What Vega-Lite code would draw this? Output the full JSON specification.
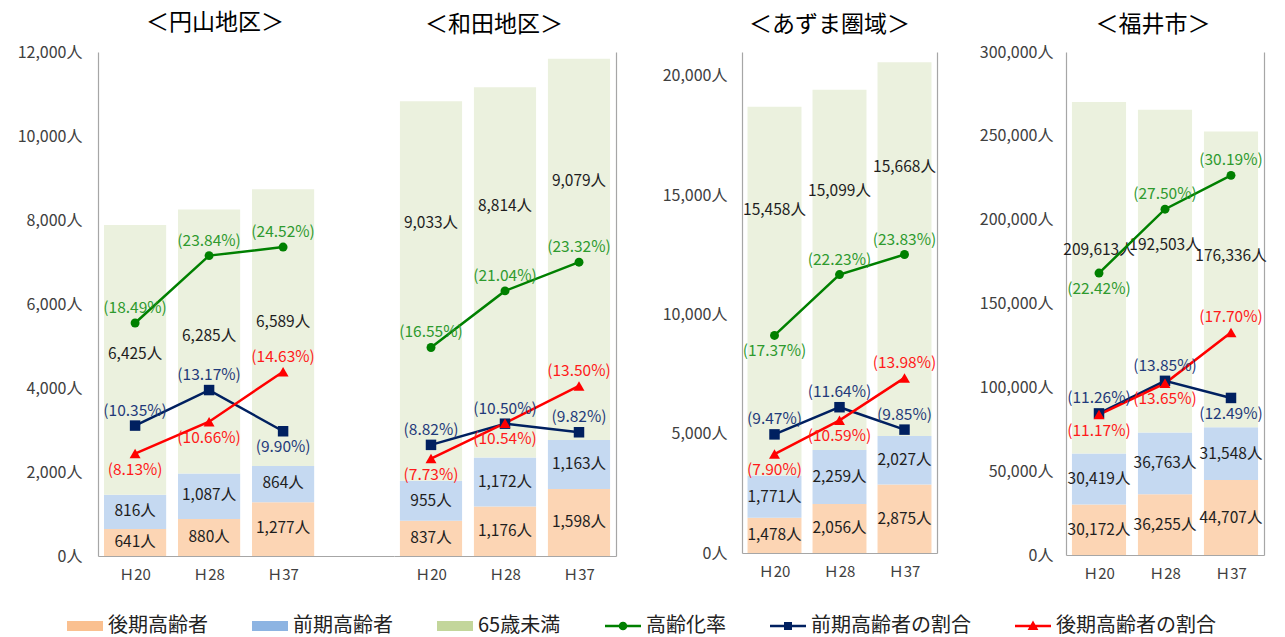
{
  "$schema": "https://vega.github.io/schema/vega-lite/v6.json",
  "background": "white",
  "padding": {"left": 17, "top": 12, "right": 0, "bottom": 48},
  "datasets": {
    "pop": [
      {"地域":"円山地区","年度":"Ｈ20","系列":"後期高齢者","値":641},
      {"地域":"円山地区","年度":"Ｈ20","系列":"前期高齢者","値":816},
      {"地域":"円山地区","年度":"Ｈ20","系列":"65歳未満","値":6425},
      {"地域":"円山地区","年度":"Ｈ20","系列":"高齢化率","値":18.49},
      {"地域":"円山地区","年度":"Ｈ20","系列":"前期高齢者の割合","値":10.35},
      {"地域":"円山地区","年度":"Ｈ20","系列":"後期高齢者の割合","値":8.13},
      {"地域":"円山地区","年度":"Ｈ28","系列":"後期高齢者","値":880},
      {"地域":"円山地区","年度":"Ｈ28","系列":"前期高齢者","値":1087},
      {"地域":"円山地区","年度":"Ｈ28","系列":"65歳未満","値":6285},
      {"地域":"円山地区","年度":"Ｈ28","系列":"高齢化率","値":23.84},
      {"地域":"円山地区","年度":"Ｈ28","系列":"前期高齢者の割合","値":13.17},
      {"地域":"円山地区","年度":"Ｈ28","系列":"後期高齢者の割合","値":10.66},
      {"地域":"円山地区","年度":"Ｈ37","系列":"後期高齢者","値":1277},
      {"地域":"円山地区","年度":"Ｈ37","系列":"前期高齢者","値":864},
      {"地域":"円山地区","年度":"Ｈ37","系列":"65歳未満","値":6589},
      {"地域":"円山地区","年度":"Ｈ37","系列":"高齢化率","値":24.52},
      {"地域":"円山地区","年度":"Ｈ37","系列":"前期高齢者の割合","値":9.90},
      {"地域":"円山地区","年度":"Ｈ37","系列":"後期高齢者の割合","値":14.63},
      {"地域":"和田地区","年度":"Ｈ20","系列":"後期高齢者","値":837},
      {"地域":"和田地区","年度":"Ｈ20","系列":"前期高齢者","値":955},
      {"地域":"和田地区","年度":"Ｈ20","系列":"65歳未満","値":9033},
      {"地域":"和田地区","年度":"Ｈ20","系列":"高齢化率","値":16.55},
      {"地域":"和田地区","年度":"Ｈ20","系列":"前期高齢者の割合","値":8.82},
      {"地域":"和田地区","年度":"Ｈ20","系列":"後期高齢者の割合","値":7.73},
      {"地域":"和田地区","年度":"Ｈ28","系列":"後期高齢者","値":1176},
      {"地域":"和田地区","年度":"Ｈ28","系列":"前期高齢者","値":1172},
      {"地域":"和田地区","年度":"Ｈ28","系列":"65歳未満","値":8814},
      {"地域":"和田地区","年度":"Ｈ28","系列":"高齢化率","値":21.04},
      {"地域":"和田地区","年度":"Ｈ28","系列":"前期高齢者の割合","値":10.50},
      {"地域":"和田地区","年度":"Ｈ28","系列":"後期高齢者の割合","値":10.54},
      {"地域":"和田地区","年度":"Ｈ37","系列":"後期高齢者","値":1598},
      {"地域":"和田地区","年度":"Ｈ37","系列":"前期高齢者","値":1163},
      {"地域":"和田地区","年度":"Ｈ37","系列":"65歳未満","値":9079},
      {"地域":"和田地区","年度":"Ｈ37","系列":"高齢化率","値":23.32},
      {"地域":"和田地区","年度":"Ｈ37","系列":"前期高齢者の割合","値":9.82},
      {"地域":"和田地区","年度":"Ｈ37","系列":"後期高齢者の割合","値":13.50},
      {"地域":"あずま圏域","年度":"Ｈ20","系列":"後期高齢者","値":1478},
      {"地域":"あずま圏域","年度":"Ｈ20","系列":"前期高齢者","値":1771},
      {"地域":"あずま圏域","年度":"Ｈ20","系列":"65歳未満","値":15458},
      {"地域":"あずま圏域","年度":"Ｈ20","系列":"高齢化率","値":17.37},
      {"地域":"あずま圏域","年度":"Ｈ20","系列":"前期高齢者の割合","値":9.47},
      {"地域":"あずま圏域","年度":"Ｈ20","系列":"後期高齢者の割合","値":7.90},
      {"地域":"あずま圏域","年度":"Ｈ28","系列":"後期高齢者","値":2056},
      {"地域":"あずま圏域","年度":"Ｈ28","系列":"前期高齢者","値":2259},
      {"地域":"あずま圏域","年度":"Ｈ28","系列":"65歳未満","値":15099},
      {"地域":"あずま圏域","年度":"Ｈ28","系列":"高齢化率","値":22.23},
      {"地域":"あずま圏域","年度":"Ｈ28","系列":"前期高齢者の割合","値":11.64},
      {"地域":"あずま圏域","年度":"Ｈ28","系列":"後期高齢者の割合","値":10.59},
      {"地域":"あずま圏域","年度":"Ｈ37","系列":"後期高齢者","値":2875},
      {"地域":"あずま圏域","年度":"Ｈ37","系列":"前期高齢者","値":2027},
      {"地域":"あずま圏域","年度":"Ｈ37","系列":"65歳未満","値":15668},
      {"地域":"あずま圏域","年度":"Ｈ37","系列":"高齢化率","値":23.83},
      {"地域":"あずま圏域","年度":"Ｈ37","系列":"前期高齢者の割合","値":9.85},
      {"地域":"あずま圏域","年度":"Ｈ37","系列":"後期高齢者の割合","値":13.98},
      {"地域":"福井市","年度":"Ｈ20","系列":"後期高齢者","値":30172},
      {"地域":"福井市","年度":"Ｈ20","系列":"前期高齢者","値":30419},
      {"地域":"福井市","年度":"Ｈ20","系列":"65歳未満","値":209613},
      {"地域":"福井市","年度":"Ｈ20","系列":"高齢化率","値":22.42},
      {"地域":"福井市","年度":"Ｈ20","系列":"前期高齢者の割合","値":11.26},
      {"地域":"福井市","年度":"Ｈ20","系列":"後期高齢者の割合","値":11.17},
      {"地域":"福井市","年度":"Ｈ28","系列":"後期高齢者","値":36255},
      {"地域":"福井市","年度":"Ｈ28","系列":"前期高齢者","値":36763},
      {"地域":"福井市","年度":"Ｈ28","系列":"65歳未満","値":192503},
      {"地域":"福井市","年度":"Ｈ28","系列":"高齢化率","値":27.50},
      {"地域":"福井市","年度":"Ｈ28","系列":"前期高齢者の割合","値":13.85},
      {"地域":"福井市","年度":"Ｈ28","系列":"後期高齢者の割合","値":13.65},
      {"地域":"福井市","年度":"Ｈ37","系列":"後期高齢者","値":44707},
      {"地域":"福井市","年度":"Ｈ37","系列":"前期高齢者","値":31548},
      {"地域":"福井市","年度":"Ｈ37","系列":"65歳未満","値":176336},
      {"地域":"福井市","年度":"Ｈ37","系列":"高齢化率","値":30.19},
      {"地域":"福井市","年度":"Ｈ37","系列":"前期高齢者の割合","値":12.49},
      {"地域":"福井市","年度":"Ｈ37","系列":"後期高齢者の割合","値":17.70}
    ]
  },
  "data": {"name": "pop"},
  "config": {
    "font": "Noto Sans CJK JP",
    "view": {"stroke": null},
    "axis": {"ticks": false, "grid": false, "domainColor": "#A6A6A6", "domainWidth": 1.2, "labelColor": "#404040", "labelFontSize": 15, "labelFont": "Noto Sans CJK JP"},
    "title": {"fontSize": 23, "fontWeight": "normal", "color": "#000000", "font": "Noto Sans CJK JP", "frame": "group", "offset": 14}
  },
  "spacing": 46,
  "hconcat": [
    {
      "spacing": 0,
      "hconcat": [
        {
          "width": 296, "height": 504,
          "title": {"text": "＜円山地区＞", "dx": -31, "offset": 9},
          "transform": [{"filter": "datum['地域'] === '円山地区'"}],
          "encoding": {"x": {"field": "年度", "type": "nominal", "sort": ["Ｈ20","Ｈ28","Ｈ37"], "scale": {"paddingInner": 0.16, "paddingOuter": 0.58, "align": 0.07}, "axis": {"title": null, "labelAngle": 0, "labelPadding": 11}}},
          "layer": [
            {
              "transform": [{"filter": {"field": "系列", "oneOf": ["後期高齢者","前期高齢者","65歳未満"]}}],
              "layer": [
                {"mark": {"type": "bar"}, "encoding": {
                  "y": {"field": "値", "type": "quantitative", "stack": "zero", "scale": {"domain": [0, 12000]}, "axis": {"title": null, "values": [0,2000,4000,6000,8000,10000,12000], "labelExpr": "format(datum.value, ',') + '人'", "labelPadding": 16, "labelFontSize": 16}},
                  "fill": {"field": "系列", "type": "nominal", "scale": {"domain": ["後期高齢者","前期高齢者","65歳未満"], "range": ["#FCD5B4","#C5D9F1","#EBF1DE"]}, "legend": null},
                  "order": {"field": "系列", "sort": "descending"}}},
                {"mark": {"type": "text", "text": {"expr": "format(datum['値'], ',') + '人'"}, "fontSize": 15.5, "color": "#1E1E1E"}, "encoding": {
                  "y": {"field": "値", "type": "quantitative", "stack": "zero", "bandPosition": 0.52, "scale": {"domain": [0, 12000]}, "axis": {"title": null, "values": [0,2000,4000,6000,8000,10000,12000], "labelExpr": "format(datum.value, ',') + '人'", "labelPadding": 16, "labelFontSize": 16}},
                  "detail": {"field": "系列"},
                  "order": {"field": "系列", "sort": "descending"}}}
              ]
            },
            {
              "transform": [{"filter": {"field": "系列", "oneOf": ["高齢化率","前期高齢者の割合","後期高齢者の割合"]}}],
              "encoding": {"y": {"field": "値", "type": "quantitative", "scale": {"domain": [0, 40]}, "axis": null}},
              "layer": [
                {"mark": {"type": "line", "strokeWidth": 2.5}, "encoding": {"stroke": {"field": "系列", "type": "nominal", "scale": {"domain": ["高齢化率","前期高齢者の割合","後期高齢者の割合"], "range": ["#008000","#002060","#FF0000"]}, "legend": null}}},
                {"transform": [{"filter": "datum['系列'] === '高齢化率'"}], "mark": {"type": "circle", "size": 80, "color": "#008000", "opacity": 1}},
                {"transform": [{"filter": "datum['系列'] === '前期高齢者の割合'"}], "mark": {"type": "square", "size": 110, "color": "#002060", "opacity": 1}},
                {"transform": [{"filter": "datum['系列'] === '後期高齢者の割合'"}], "mark": {"type": "point", "shape": "triangle-up", "filled": true, "size": 120, "color": "#FF0000", "opacity": 1}},
                {"transform": [{"filter": "datum['系列'] === '高齢化率'"}], "mark": {"type": "text", "text": {"expr": "'(' + format(datum['値'], '.2f') + '%)'"}, "fontSize": 15.5, "color": "#2E9A2E", "dy": -15}},
                {"transform": [{"filter": "datum['系列'] === '前期高齢者の割合'"}], "mark": {"type": "text", "text": {"expr": "'(' + format(datum['値'], '.2f') + '%)'"}, "fontSize": 15.5, "color": "#1F3A7A", "dy": {"expr": "datum['年度'] === 'Ｈ37' ? 16 : -15"}}},
                {"transform": [{"filter": "datum['系列'] === '後期高齢者の割合'"}], "mark": {"type": "text", "text": {"expr": "'(' + format(datum['値'], '.2f') + '%)'"}, "fontSize": 15.5, "color": "#FF1A1A", "dy": {"expr": "datum['年度'] === 'Ｈ37' ? -15 : 16"}}}
              ]
            }
          ],
          "resolve": {"scale": {"y": "independent"}}
        },
        {
          "width": 222, "height": 504,
          "title": {"text": "＜和田地区＞", "dx": -11, "offset": 15},
          "transform": [{"filter": "datum['地域'] === '和田地区'"}],
          "encoding": {"x": {"field": "年度", "type": "nominal", "sort": ["Ｈ20","Ｈ28","Ｈ37"], "scale": {"paddingInner": 0.16, "paddingOuter": 0.08}, "axis": {"title": null, "labelAngle": 0, "labelPadding": 11}}},
          "layer": [
            {
              "transform": [{"filter": {"field": "系列", "oneOf": ["後期高齢者","前期高齢者","65歳未満"]}}],
              "layer": [
                {"mark": {"type": "bar"}, "encoding": {
                  "y": {"field": "値", "type": "quantitative", "stack": "zero", "scale": {"domain": [0, 12000]}, "axis": null},
                  "fill": {"field": "系列", "type": "nominal", "scale": {"domain": ["後期高齢者","前期高齢者","65歳未満"], "range": ["#FCD5B4","#C5D9F1","#EBF1DE"]}, "legend": null},
                  "order": {"field": "系列", "sort": "descending"}}},
                {"transform": [{"filter": "datum['系列'] !== '65歳未満'"}], "mark": {"type": "text", "text": {"expr": "format(datum['値'], ',') + '人'"}, "fontSize": 15.5, "color": "#1E1E1E"}, "encoding": {
                  "y": {"field": "値", "type": "quantitative", "stack": "zero", "bandPosition": 0.5, "scale": {"domain": [0, 12000]}, "axis": null},
                  "detail": {"field": "系列"},
                  "order": {"field": "系列", "sort": "descending"}}},
                {"mark": {"type": "text", "text": {"expr": "datum['系列'] === '65歳未満' ? format(datum['値'], ',') + '人' : ''"}, "fontSize": 15.5, "color": "#1E1E1E"}, "encoding": {
                  "y": {"field": "値", "type": "quantitative", "stack": "zero", "bandPosition": 0.68, "scale": {"domain": [0, 12000]}, "axis": null},
                  "detail": {"field": "系列"},
                  "order": {"field": "系列", "sort": "descending"}}}
              ]
            },
            {
              "transform": [{"filter": {"field": "系列", "oneOf": ["高齢化率","前期高齢者の割合","後期高齢者の割合"]}}],
              "encoding": {"y": {"field": "値", "type": "quantitative", "scale": {"domain": [0, 40]}, "axis": {"orient": "right", "labels": false, "ticks": false, "domain": true, "grid": false, "title": null}}},
              "layer": [
                {"mark": {"type": "line", "strokeWidth": 2.5}, "encoding": {"stroke": {"field": "系列", "type": "nominal", "scale": {"domain": ["高齢化率","前期高齢者の割合","後期高齢者の割合"], "range": ["#008000","#002060","#FF0000"]}, "legend": null}}},
                {"transform": [{"filter": "datum['系列'] === '高齢化率'"}], "mark": {"type": "circle", "size": 80, "color": "#008000", "opacity": 1}},
                {"transform": [{"filter": "datum['系列'] === '前期高齢者の割合'"}], "mark": {"type": "square", "size": 110, "color": "#002060", "opacity": 1}},
                {"transform": [{"filter": "datum['系列'] === '後期高齢者の割合'"}], "mark": {"type": "point", "shape": "triangle-up", "filled": true, "size": 120, "color": "#FF0000", "opacity": 1}},
                {"transform": [{"filter": "datum['系列'] === '高齢化率'"}], "mark": {"type": "text", "text": {"expr": "'(' + format(datum['値'], '.2f') + '%)'"}, "fontSize": 15.5, "color": "#2E9A2E", "dy": -15}},
                {"transform": [{"filter": "datum['系列'] === '前期高齢者の割合'"}], "mark": {"type": "text", "text": {"expr": "'(' + format(datum['値'], '.2f') + '%)'"}, "fontSize": 15.5, "color": "#1F3A7A", "dy": -15}},
                {"transform": [{"filter": "datum['系列'] === '後期高齢者の割合'"}], "mark": {"type": "text", "text": {"expr": "'(' + format(datum['値'], '.2f') + '%)'"}, "fontSize": 15.5, "color": "#FF1A1A", "dy": {"expr": "datum['年度'] === 'Ｈ37' ? -15 : 16"}}}
              ]
            }
          ],
          "resolve": {"scale": {"y": "independent"}}
        }
      ]
    },
    {
      "spacing": 42,
      "hconcat": [
        {
          "width": 195, "height": 501,
          "title": {"text": "＜あずま圏域＞", "dx": -10, "offset": 15},
          "transform": [{"filter": "datum['地域'] === 'あずま圏域'"}],
          "encoding": {"x": {"field": "年度", "type": "nominal", "sort": ["Ｈ20","Ｈ28","Ｈ37"], "scale": {"paddingInner": 0.17, "paddingOuter": 0.085}, "axis": {"title": null, "labelAngle": 0, "labelPadding": 11}}},
          "layer": [
            {
              "transform": [{"filter": {"field": "系列", "oneOf": ["後期高齢者","前期高齢者","65歳未満"]}}],
              "layer": [
                {"mark": {"type": "bar"}, "encoding": {
                  "y": {"field": "値", "type": "quantitative", "stack": "zero", "scale": {"domain": [0, 21000]}, "axis": {"title": null, "values": [0,5000,10000,15000,20000], "labelExpr": "format(datum.value, ',') + '人'", "labelPadding": 15, "labelFontSize": 16}},
                  "fill": {"field": "系列", "type": "nominal", "scale": {"domain": ["後期高齢者","前期高齢者","65歳未満"], "range": ["#FCD5B4","#C5D9F1","#EBF1DE"]}, "legend": null},
                  "order": {"field": "系列", "sort": "descending"}}},
                {"transform": [{"filter": "datum['系列'] !== '65歳未満'"}], "mark": {"type": "text", "text": {"expr": "format(datum['値'], ',') + '人'"}, "fontSize": 15.5, "color": "#1E1E1E"}, "encoding": {
                  "y": {"field": "値", "type": "quantitative", "stack": "zero", "bandPosition": 0.5, "scale": {"domain": [0, 21000]}, "axis": {"title": null, "values": [0,5000,10000,15000,20000], "labelExpr": "format(datum.value, ',') + '人'", "labelPadding": 15, "labelFontSize": 16}},
                  "detail": {"field": "系列"},
                  "order": {"field": "系列", "sort": "descending"}}},
                {"mark": {"type": "text", "text": {"expr": "datum['系列'] === '65歳未満' ? format(datum['値'], ',') + '人' : ''"}, "fontSize": 15.5, "color": "#1E1E1E"}, "encoding": {
                  "y": {"field": "値", "type": "quantitative", "stack": "zero", "bandPosition": 0.72, "scale": {"domain": [0, 21000]}, "axis": {"title": null, "values": [0,5000,10000,15000,20000], "labelExpr": "format(datum.value, ',') + '人'", "labelPadding": 15, "labelFontSize": 16}},
                  "detail": {"field": "系列"},
                  "order": {"field": "系列", "sort": "descending"}}}
              ]
            },
            {
              "transform": [{"filter": {"field": "系列", "oneOf": ["高齢化率","前期高齢者の割合","後期高齢者の割合"]}}],
              "encoding": {"y": {"field": "値", "type": "quantitative", "scale": {"domain": [0, 40]}, "axis": {"orient": "right", "labels": false, "ticks": false, "domain": true, "grid": false, "title": null}}},
              "layer": [
                {"mark": {"type": "line", "strokeWidth": 2.5}, "encoding": {"stroke": {"field": "系列", "type": "nominal", "scale": {"domain": ["高齢化率","前期高齢者の割合","後期高齢者の割合"], "range": ["#008000","#002060","#FF0000"]}, "legend": null}}},
                {"transform": [{"filter": "datum['系列'] === '高齢化率'"}], "mark": {"type": "circle", "size": 80, "color": "#008000", "opacity": 1}},
                {"transform": [{"filter": "datum['系列'] === '前期高齢者の割合'"}], "mark": {"type": "square", "size": 110, "color": "#002060", "opacity": 1}},
                {"transform": [{"filter": "datum['系列'] === '後期高齢者の割合'"}], "mark": {"type": "point", "shape": "triangle-up", "filled": true, "size": 120, "color": "#FF0000", "opacity": 1}},
                {"transform": [{"filter": "datum['系列'] === '高齢化率'"}], "mark": {"type": "text", "text": {"expr": "'(' + format(datum['値'], '.2f') + '%)'"}, "fontSize": 15.5, "color": "#2E9A2E", "dy": {"expr": "datum['年度'] === 'Ｈ20' ? 16 : -15"}}},
                {"transform": [{"filter": "datum['系列'] === '前期高齢者の割合'"}], "mark": {"type": "text", "text": {"expr": "'(' + format(datum['値'], '.2f') + '%)'"}, "fontSize": 15.5, "color": "#1F3A7A", "dy": -15}},
                {"transform": [{"filter": "datum['系列'] === '後期高齢者の割合'"}], "mark": {"type": "text", "text": {"expr": "'(' + format(datum['値'], '.2f') + '%)'"}, "fontSize": 15.5, "color": "#FF1A1A", "dy": {"expr": "datum['年度'] === 'Ｈ37' ? -15 : 16"}}}
              ]
            }
          ],
          "resolve": {"scale": {"y": "independent"}}
        },
        {
          "width": 198, "height": 503,
          "title": {"text": "＜福井市＞", "dx": -12, "offset": 7},
          "transform": [{"filter": "datum['地域'] === '福井市'"}],
          "encoding": {"x": {"field": "年度", "type": "nominal", "sort": ["Ｈ20","Ｈ28","Ｈ37"], "scale": {"paddingInner": 0.18, "paddingOuter": 0.09}, "axis": {"title": null, "labelAngle": 0, "labelPadding": 11}}},
          "layer": [
            {
              "transform": [{"filter": {"field": "系列", "oneOf": ["後期高齢者","前期高齢者","65歳未満"]}}],
              "layer": [
                {"mark": {"type": "bar"}, "encoding": {
                  "y": {"field": "値", "type": "quantitative", "stack": "zero", "scale": {"domain": [0, 300000]}, "axis": {"title": null, "values": [0,50000,100000,150000,200000,250000,300000], "labelExpr": "format(datum.value, ',') + '人'", "labelPadding": 13, "labelFontSize": 16}},
                  "fill": {"field": "系列", "type": "nominal", "scale": {"domain": ["後期高齢者","前期高齢者","65歳未満"], "range": ["#FCD5B4","#C5D9F1","#EBF1DE"]}, "legend": null},
                  "order": {"field": "系列", "sort": "descending"}}},
                {"transform": [{"filter": "datum['系列'] !== '65歳未満'"}], "mark": {"type": "text", "text": {"expr": "format(datum['値'], ',') + '人'"}, "fontSize": 15.5, "color": "#1E1E1E"}, "encoding": {
                  "y": {"field": "値", "type": "quantitative", "stack": "zero", "bandPosition": 0.5, "scale": {"domain": [0, 300000]}, "axis": {"title": null, "values": [0,50000,100000,150000,200000,250000,300000], "labelExpr": "format(datum.value, ',') + '人'", "labelPadding": 13, "labelFontSize": 16}},
                  "detail": {"field": "系列"},
                  "order": {"field": "系列", "sort": "descending"}}},
                {"mark": {"type": "text", "text": {"expr": "datum['系列'] === '65歳未満' ? format(datum['値'], ',') + '人' : ''"}, "fontSize": 15.5, "color": "#1E1E1E"}, "encoding": {
                  "y": {"field": "値", "type": "quantitative", "stack": "zero", "bandPosition": 0.58, "scale": {"domain": [0, 300000]}, "axis": {"title": null, "values": [0,50000,100000,150000,200000,250000,300000], "labelExpr": "format(datum.value, ',') + '人'", "labelPadding": 13, "labelFontSize": 16}},
                  "detail": {"field": "系列"},
                  "order": {"field": "系列", "sort": "descending"}}}
              ]
            },
            {
              "transform": [{"filter": {"field": "系列", "oneOf": ["高齢化率","前期高齢者の割合","後期高齢者の割合"]}}],
              "encoding": {"y": {"field": "値", "type": "quantitative", "scale": {"domain": [0, 40]}, "axis": {"orient": "right", "labels": false, "ticks": false, "domain": true, "grid": false, "title": null}}},
              "layer": [
                {"mark": {"type": "line", "strokeWidth": 2.5}, "encoding": {"stroke": {"field": "系列", "type": "nominal", "scale": {"domain": ["高齢化率","前期高齢者の割合","後期高齢者の割合"], "range": ["#008000","#002060","#FF0000"]}, "legend": null}}},
                {"transform": [{"filter": "datum['系列'] === '高齢化率'"}], "mark": {"type": "circle", "size": 80, "color": "#008000", "opacity": 1}},
                {"transform": [{"filter": "datum['系列'] === '前期高齢者の割合'"}], "mark": {"type": "square", "size": 110, "color": "#002060", "opacity": 1}},
                {"transform": [{"filter": "datum['系列'] === '後期高齢者の割合'"}], "mark": {"type": "point", "shape": "triangle-up", "filled": true, "size": 120, "color": "#FF0000", "opacity": 1}},
                {"transform": [{"filter": "datum['系列'] === '高齢化率'"}], "mark": {"type": "text", "text": {"expr": "'(' + format(datum['値'], '.2f') + '%)'"}, "fontSize": 15.5, "color": "#2E9A2E", "dy": {"expr": "datum['年度'] === 'Ｈ20' ? 16 : -15"}}},
                {"transform": [{"filter": "datum['系列'] === '前期高齢者の割合'"}], "mark": {"type": "text", "text": {"expr": "'(' + format(datum['値'], '.2f') + '%)'"}, "fontSize": 15.5, "color": "#1F3A7A", "dy": {"expr": "datum['年度'] === 'Ｈ37' ? 16 : -15"}}},
                {"transform": [{"filter": "datum['系列'] === '後期高齢者の割合'"}], "mark": {"type": "text", "text": {"expr": "'(' + format(datum['値'], '.2f') + '%)'"}, "fontSize": 15.5, "color": "#FF1A1A", "dy": {"expr": "datum['年度'] === 'Ｈ37' ? -15 : 16"}}}
              ]
            },
            {
              "mark": {"type": "point", "filled": true, "opacity": 0},
              "encoding": {
                "color": {"field": "系列", "type": "nominal", "scale": {"domain": ["後期高齢者","前期高齢者","65歳未満","高齢化率","前期高齢者の割合","後期高齢者の割合"], "range": ["#FAC090","#8DB4E2","#C3D69B","#008000","#002060","#FF0000"]},
                  "legend": {"title": null, "orient": "none", "legendX": -23, "legendY": 564, "direction": "horizontal", "columns": 6, "symbolSize": 400, "symbolStrokeWidth": 0, "symbolOpacity": 1, "labelFontSize": 20, "labelLimit": 220, "labelFont": "Noto Sans CJK JP", "labelColor": "#222222", "columnPadding": 44, "labelOffset": 13}},
                "shape": {"field": "系列", "type": "nominal", "scale": {"domain": ["後期高齢者","前期高齢者","65歳未満","高齢化率","前期高齢者の割合","後期高齢者の割合"], "range": ["M-1.8,-0.5H1.8V0.5H-1.8Z","M-1.8,-0.5H1.8V0.5H-1.8Z","M-1.8,-0.5H1.8V0.5H-1.8Z","M-1.8,-0.13H1.8V0.13H-1.8ZM0.43,0A0.43,0.43,0,1,1,-0.43,0A0.43,0.43,0,1,1,0.43,0Z","M-1.8,-0.13H1.8V0.13H-1.8ZM-0.4,-0.4H0.4V0.4H-0.4Z","M-1.8,-0.13H1.8V0.13H-1.8ZM0,-0.54L0.54,0.4H-0.54Z"]},
                  "legend": {"title": null, "orient": "none", "legendX": -23, "legendY": 564, "direction": "horizontal", "columns": 6, "symbolSize": 400, "symbolStrokeWidth": 0, "symbolOpacity": 1, "labelFontSize": 20, "labelLimit": 220, "labelFont": "Noto Sans CJK JP", "labelColor": "#222222", "columnPadding": 44, "labelOffset": 13}}
              }
            }
          ],
          "resolve": {"scale": {"y": "independent"}}
        }
      ]
    }
  ]
}
